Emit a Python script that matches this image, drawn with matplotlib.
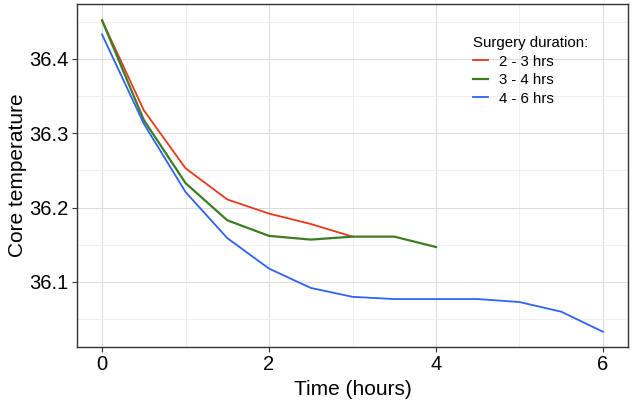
import matplotlib.pyplot as plt
from matplotlib.ticker import MultipleLocator

plt.rcParams['font.family'] = ['Liberation Sans', 'DejaVu Sans']

# Core temperature by time, per surgery duration group
time_red = [0, 0.5, 1, 1.5, 2, 2.5, 3]
temp_red = [36.452, 36.331, 36.253, 36.211, 36.192, 36.178, 36.161]

time_green = [0, 0.5, 1, 1.5, 2, 2.5, 3, 3.5, 4]
temp_green = [36.452, 36.318, 36.233, 36.183, 36.162, 36.157, 36.161, 36.161, 36.147]

time_blue = [0, 0.5, 1, 1.5, 2, 2.5, 3, 3.5, 4, 4.5, 5, 5.5, 6]
temp_blue = [36.433, 36.313, 36.221, 36.159, 36.118, 36.092, 36.080, 36.077,
             36.077, 36.077, 36.073, 36.060, 36.033]

labels = ["2 - 3 hrs", "3 - 4 hrs", "4 - 6 hrs"]

fig = plt.figure(figsize=(6.32, 4.04), dpi=100)
ax = fig.add_axes([77/632, 1 - 347/404, (628-77)/632, (347-4)/404])

ax.plot(time_red, temp_red, color='#e8381b', lw=1.3, label=labels[0])
ax.plot(time_green, temp_green, color='#3c7d22', lw=1.6, label=labels[1])
ax.plot(time_blue, temp_blue, color='#2f62f5', lw=1.3, label=labels[2])

ax.set_xlim(-0.3, 6.3)
ax.set_ylim(36.0125, 36.474)
ax.xaxis.set_major_locator(MultipleLocator(2))
ax.xaxis.set_minor_locator(MultipleLocator(1))
ax.yaxis.set_major_locator(MultipleLocator(0.1))
ax.yaxis.set_minor_locator(MultipleLocator(0.05))
ax.yaxis.set_major_formatter(plt.FuncFormatter(lambda v, p: f"{v:.1f}"))

ax.grid(which='major', color='#dcdcdc', lw=0.8)
ax.grid(which='minor', color='#ececec', lw=0.6)
ax.set_axisbelow(True)
for s in ax.spines.values():
    s.set_color('#333333')
    s.set_linewidth(1.0)
ax.tick_params(which='major', length=3.5, width=0.8, color='#333333',
               labelsize=14.5, labelcolor='black', pad=2.5)
ax.tick_params(which='minor', length=0)

ax.set_xlabel("Time (hours)", fontsize=15, labelpad=4)
ax.set_ylabel("Core temperature", fontsize=15, labelpad=2)

leg = ax.legend(title="Surgery duration:", loc='upper left', bbox_to_anchor=(0.694, 0.946),
                frameon=False, fontsize=10.8, title_fontsize=10.8, handlelength=1.0,
                handletextpad=0.75, labelspacing=0.3)
leg._legend_box.align = "left"

fig.savefig("out.png", dpi=100)
